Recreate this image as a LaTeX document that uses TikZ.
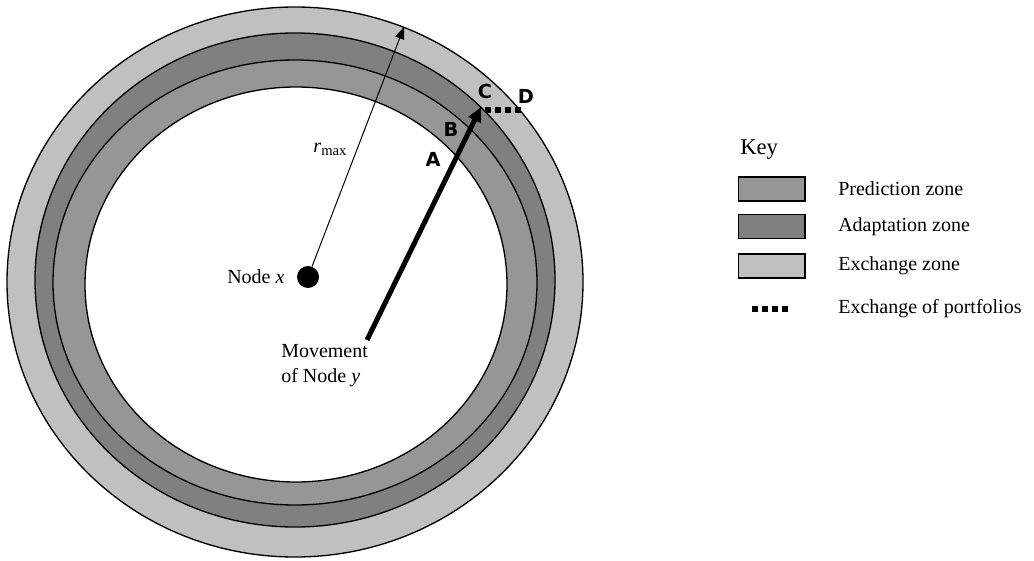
\documentclass[tikz,border=0pt]{standalone}
\usepackage{fontspec}
\setmainfont{Liberation Serif}
\newfontfamily\labelfont{DejaVu Sans}
\usetikzlibrary{arrows.meta,positioning}
\definecolor{predzone}{HTML}{969696}
\definecolor{adaptzone}{HTML}{808080}
\definecolor{exchzone}{HTML}{C0C0C0}
\tikzset{
  zone/.style={draw=black, line width=1pt},
  keybox/.style={draw=black, line width=1pt, minimum width=50pt, minimum height=18pt, inner sep=0pt},
  pointlabel/.style={font=\labelfont\bfseries\fontsize{14.5}{14.5}\selectfont, inner sep=0pt},
  txt/.style={font=\fontsize{15}{18.75}\selectfont, inner sep=0pt},
  portfolio/.style={line width=4pt, dash pattern=on 4.5pt off 3pt},
}
\begin{document}
\begin{tikzpicture}[x=0.75pt, y=-0.75pt]
    \useasboundingbox (0,0) rectangle (1034,560);
    % zones, from the outside in
    \filldraw[zone, fill=exchzone] (295,282) ellipse [x radius=288, y radius=275];
    \filldraw[zone, fill=adaptzone] (295,280) ellipse [x radius=260, y radius=247];
    \filldraw[zone, fill=predzone] (295,282.5) ellipse [x radius=242, y radius=222.5];
    \filldraw[zone, fill=white] (296,284.5) ellipse [x radius=211, y radius=197.5];
    % node x and the range
    \node[circle, fill=black, minimum size=16.5pt, inner sep=0pt] (nodex) at (308,277) {};
    \node[txt, left=9pt of nodex] (nodexlabel) {Node \textit{x}};
    \coordinate (rtip) at (404,27);
    \draw[line width=0.75pt, -{Triangle[length=9pt, width=7pt]}] (nodex) -- (rtip);
    \node[txt] (rmax) at (330,149) {\textit{r}\raisebox{-0.35ex}{\fontsize{11}{11}\selectfont max}};
    % movement of node y
    \coordinate (ytail) at (367,340);
    \coordinate (ytip) at (481,107);
    \draw[line width=3.75pt, -{Triangle[length=11pt, width=10pt]}] (ytail) -- (ytip);
    \node[txt, align=left, anchor=north west] (movelabel) at (281,344) {Movement\\of Node \textit{y}};
    \coordinate (cpt) at (485,110);
    \coordinate (dpt) at (521,110);
    \draw[portfolio] (cpt) -- (dpt);
    \node[pointlabel] (ptA) at (433,159) {A};
    \node[pointlabel] (ptB) at (451,129) {B};
    \node[pointlabel] (ptC) at (485,91) {C};
    \node[pointlabel] (ptD) at (526,96) {D};
    % key
    \node[txt, font=\fontsize{17}{17}\selectfont, anchor=west] (key) at (740,150) {Key};
    \node[keybox, fill=predzone] (kpred) at (771.5,189) {};
    \node[keybox, fill=adaptzone] (kadapt) at (771.5,226.5) {};
    \node[keybox, fill=exchzone] (kexch) at (771.5,266) {};
    \coordinate (kport1) at (752,309);
    \coordinate (kport2) at (792,309);
    \draw[portfolio] (kport1) -- (kport2);
    \node[txt, anchor=west] (tpred) at (838,189) {Prediction zone};
    \node[txt, anchor=west] (tadapt) at (838,226.5) {Adaptation zone};
    \node[txt, anchor=west] (texch) at (838,266) {Exchange zone};
    \node[txt, anchor=west] (tport) at (838,309) {Exchange of portfolios};
\end{tikzpicture}
\end{document}
